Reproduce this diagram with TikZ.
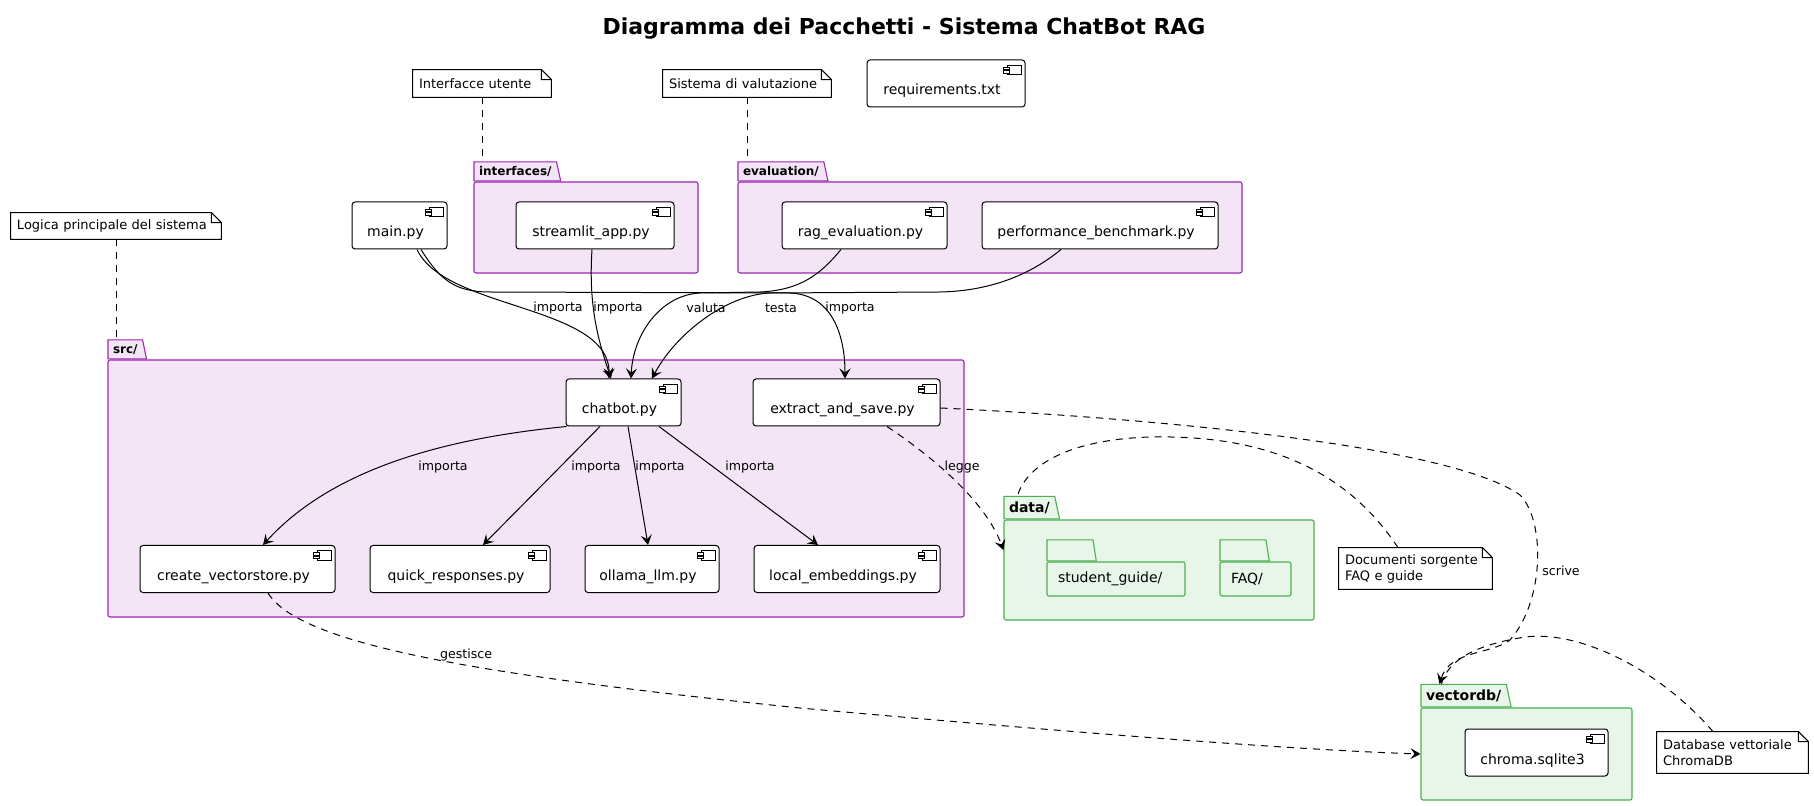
\documentclass[tikz,border=0pt]{standalone}
\usepackage{fontspec}
\setmainfont{DejaVu Sans}
\usepackage{tikz}
\usetikzlibrary{shapes.geometric, arrows.meta, positioning, calc}

\definecolor{pfill}{HTML}{F3E5F5}
\definecolor{pline}{HTML}{9C27B0}
\definecolor{gfill}{HTML}{E8F5E9}
\definecolor{gline}{HTML}{4CAF50}

\newcommand{\notefold}[1]{%
  \draw[noteline] (#1.north west) -- ([xshift=-5pt]#1.north east) -- ([yshift=-5pt]#1.north east)
    -- (#1.south east) -- (#1.south west) -- cycle
    ([xshift=-5pt]#1.north east) |- ([yshift=-5pt]#1.north east);}

\begin{document}
\begin{tikzpicture}[
    x=0.5pt, y=-0.5pt,
    comp/.style={rectangle, draw, fill=white, rounded corners=1.5pt, line width=0.5pt, minimum height=23.5pt, inner sep=0pt, text height=11.5pt, text depth=0pt, font=\fontsize{7}{8.4}\selectfont, execute at end node={\hspace{4pt}}},
    icon/.style={draw, fill=white, line width=0.45pt},
    note/.style={rectangle, fill=white, inner xsep=3pt, inner ysep=0pt, align=left, text width=#1, font=\fontsize{6.5}{8}\selectfont},
    noteline/.style={line width=0.5pt},
    pkgp/.style={rectangle, draw=pline, fill=pfill, rounded corners=1pt, line width=0.55pt, inner sep=0pt},
    pkgg/.style={rectangle, draw=gline, fill=gfill, rounded corners=1pt, line width=0.55pt, inner sep=0pt},
    ptab/.style={trapezium, trapezium left angle=90, trapezium right angle=68, trapezium stretches=true, draw=pline, fill=pfill, line width=0.55pt, anchor=bottom left corner, inner xsep=2.5pt, inner ysep=0pt, minimum height=9.5pt, font=\fontsize{6}{7}\selectfont\bfseries},
    gtab/.style={ptab, draw=gline, fill=gfill, minimum height=11.25pt, font=\fontsize{7}{8.4}\selectfont\bfseries},
    subtab/.style={gtab, inner xsep=11.5pt, minimum height=10.5pt, text height=4pt, text depth=0pt},
    subbox/.style={pkgg, inner xsep=5.5pt, inner ysep=0pt, minimum height=17pt, align=left, font=\fontsize{7}{8.4}\selectfont},
    lbl/.style={inner sep=0pt, font=\fontsize{6.3}{7.5}\selectfont},
    arr/.style={-{Stealth[length=5pt, width=5.5pt, inset=2pt]}, line width=0.5pt},
    darr/.style={arr, dash pattern=on 3.5pt off 3pt},
    dsh/.style={line width=0.5pt, dash pattern=on 3.5pt off 3pt},
    ttl/.style={font=\fontsize{11}{13}\selectfont\bfseries},
]

\fill[white] (0,0) rectangle (1814,806);
\useasboundingbox (0,0) rectangle (1814,806);

\node[ttl] (title) at (904,29) {Diagramma dei Pacchetti - Sistema ChatBot RAG};

\node[pkgp, minimum width=112pt, minimum height=45.5pt] (interfaces) at (586,227.5) {};
\node[ptab] (itab) at (interfaces.north west) {interfaces/};
\node[pkgp, minimum width=252pt, minimum height=45.5pt] (evaluation) at (990,227.5) {};
\node[ptab] (etab) at (evaluation.north west) {evaluation/};
\node[pkgp, minimum width=428pt, minimum height=128.5pt] (src) at (536,488.5) {};
\node[ptab] (stab) at (src.north west) {src/};
\node[pkgg, minimum width=155pt, minimum height=50pt] (data) at (1159,570) {};
\node[gtab] (dtab) at (data.north west) {data/};
\node[pkgg, minimum width=105.5pt, minimum height=46pt] (vdb) at (1526.5,754) {};
\node[gtab] (vtab) at (vdb.north west) {vectordb/};

\node[subbox, text width=58pt] (guide) at (1116,579) {student\_guide/};
\node[subtab] (guidetab) at (guide.north west) {\hspace{0.1pt}};
\node[subbox, text width=24.5pt] (faq) at (1255.5,579) {FAQ/};
\node[subtab] (faqtab) at (faq.north west) {\hspace{0.1pt}};

\node[comp, minimum width=79pt] (req) at (946,83.5) {requirements.txt};
\node[comp, minimum width=47.5pt] (main) at (399.5,225.5) {main.py};
\node[comp, minimum width=79pt] (streamlit) at (595,225.5) {streamlit\_app.py};
\node[comp, minimum width=82.5pt] (rag) at (864.5,225.5) {rag\_evaluation.py};
\node[comp, minimum width=118pt] (perf) at (1100,225.5) {performance\_benchmark.py};
\node[comp, minimum width=57.5pt] (chatbot) at (623.5,402.5) {chatbot.py};
\node[comp, minimum width=93.5pt] (extract) at (846.5,402.5) {extract\_and\_save.py};
\node[comp, minimum width=97.5pt] (create) at (237.5,569) {create\_vectorstore.py};
\node[comp, minimum width=90pt] (quick) at (460,569) {quick\_responses.py};
\node[comp, minimum width=67pt] (ollama) at (652,569) {ollama\_llm.py};
\node[comp, minimum width=93pt] (local) at (847,569) {local\_embeddings.py};
\node[comp, minimum width=71.5pt] (chroma) at (1536.5,752.5) {chroma.sqlite3};

\foreach \cn in {req,main,streamlit,rag,perf,chatbot,extract,create,quick,ollama,local,chroma} {
  \draw[icon] ([shift={(-18.5,5.5)}]\cn.north east) rectangle ([shift={(-4.5,15)}]\cn.north east);
  \draw[icon] ([shift={(-22,7.5)}]\cn.north east) rectangle ([shift={(-16,10)}]\cn.north east);
  \draw[icon] ([shift={(-22,11)}]\cn.north east) rectangle ([shift={(-16,13.5)}]\cn.north east);
}

\node[note=63pt, minimum height=13.5pt] (n1) at (482,83.5) {Interfacce utente};
\node[note=78pt, minimum height=13.5pt] (n2) at (747,83.5) {Sistema di valutazione};
\node[note=99pt, minimum height=13pt] (n3) at (116,226) {Logica principale del sistema};
\node[note=70.5pt, minimum height=20.5pt] (n4) at (1415.5,568.5) {Documenti sorgente\\FAQ e guide};
\node[note=69.5pt, minimum height=20.5pt] (n5) at (1732.5,752.5) {Database vettoriale\\ChromaDB};
\foreach \nn in {n1,n2,n3,n4,n5} {\notefold{\nn}}

\draw[dsh] (n1.south) -- (n1.south |- itab.top left corner);
\draw[dsh] (n2.south) -- (n2.south |- etab.top left corner);
\draw[dsh] (n3.south) -- (n3.south |- stab.top left corner);
\draw[dsh] ([xshift=-8.75pt]n4.north) .. controls (1340,460) and (1250,435) .. (1150,437) .. controls (1060,440) and (1025,470) .. ([xshift=7pt]dtab.top left corner);
\draw[dsh] ([xshift=-9.75pt]n5.north) .. controls (1660,670) and (1580,630) .. (1525,637) .. controls (1475,645) and (1448,660) .. ([xshift=10.5pt]vtab.top left corner);

\draw[arr] ([xshift=8.75pt]main.south) .. controls (445,310) and (610,305) .. ([xshift=-7.25pt]chatbot.north);
\draw[arr] ([xshift=10.75pt]main.south) .. controls (440,280) and (455,292) .. (490,292) -- (790,293) .. controls (835,295) and (845,340) .. ([xshift=-0.75pt]extract.north);
\draw[arr] ([xshift=-1.5pt]streamlit.south) .. controls (588,310) and (600,345) .. ([xshift=-6.25pt]chatbot.north);
\draw[arr] ([xshift=-11.75pt]rag.south) .. controls (820,275) and (800,290) .. (760,292) -- (700,293) .. controls (660,295) and (633,335) .. ([xshift=3.75pt]chatbot.north);
\draw[arr] ([xshift=-19.5pt]perf.south) .. controls (1030,275) and (990,291) .. (940,292) -- (770,293) .. controls (725,295) and (675,335) .. ([xshift=14.25pt]chatbot.north);

\draw[arr] ([xshift=0.5pt]chatbot.south west) .. controls (470,436) and (340,460) .. ([xshift=12.75pt]create.north);
\draw[arr] ([xshift=-11.75pt]chatbot.south) -- ([xshift=11.5pt]quick.north);
\draw[arr] ([xshift=2.25pt]chatbot.south) -- ([xshift=-2pt]ollama.north);
\draw[arr] ([xshift=17.75pt]chatbot.south) -- ([xshift=-14.5pt]local.north);

\draw[darr] ([xshift=20.25pt]extract.south) .. controls (930,455) and (985,500) .. ([yshift=10pt]data.west);
\draw[darr] ([yshift=-2.75pt]extract.east) .. controls (1150,418) and (1450,445) .. (1520,495) .. controls (1545,520) and (1545,600) .. (1510,640) .. controls (1490,655) and (1450,650) .. ([xshift=9.5pt]vtab.top left corner);
\draw[darr] ([xshift=15.25pt]create.south) .. controls (300,645) and (480,675) .. (800,708) .. controls (1100,735) and (1300,750) .. (vdb.west);

\node[lbl] (l1) at (558,308) {importa};
\node[lbl] (l2) at (618,308) {importa};
\node[lbl] (l3) at (706,308) {valuta};
\node[lbl] (l4) at (781,308) {testa};
\node[lbl] (l5) at (850,308) {importa};
\node[lbl] (l6) at (443,467) {importa};
\node[lbl] (l7) at (596,467) {importa};
\node[lbl] (l8) at (660,467) {importa};
\node[lbl] (l9) at (750,467) {importa};
\node[lbl] (l10) at (962,467) {legge};
\node[lbl] (l11) at (1561,571) {scrive};
\node[lbl] (l12) at (466,655) {gestisce};

\end{tikzpicture}
\end{document}
